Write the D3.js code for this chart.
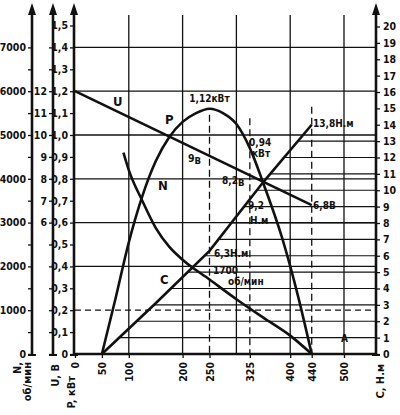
<!DOCTYPE html>
<html><head><meta charset="utf-8">
<script src="https://cdn.jsdelivr.net/npm/d3@7"></script>
<style>
html,body{margin:0;padding:0;background:#fff;}
svg text{font-family:"DejaVu Sans Condensed","Liberation Sans Narrow","DejaVu Sans",sans-serif;font-stretch:condensed;font-weight:bold;fill:#111;}
</style></head>
<body>
<svg id="c" width="400" height="415"></svg>
<script>
// ---- data (current I, A) ----
const I_U = [0, 440];
const U_V = [12, 6.8];
const I_P = [50, 75, 100, 125, 150, 175, 200, 225, 250, 275, 300, 325, 350, 385, 415, 440];
const P_kW = [0, 0.25, 0.51, 0.72, 0.88, 0.99, 1.06, 1.10, 1.12, 1.10, 1.05, 0.94, 0.78, 0.53, 0.26, 0];
const I_N = [90, 100, 125, 150, 175, 200, 250, 300, 350, 400, 440];
const N_rpm = [4600, 4200, 3500, 2880, 2450, 2150, 1700, 1250, 830, 420, 0];
const I_C = [50, 150, 250, 350, 440];
const C_Nm = [0, 3.1, 6.3, 10.5, 14.0];

// ticks
const xTicks = [0, 50, 100, 200, 250, 325, 400, 440, 500];
const xGrid = [100, 200, 300, 400, 500];
const xDashed = [250, 325, 440];
const nTicks = d3.range(0, 7001, 500);
const uTicks = d3.range(0, 15, 1);
const uLabels = [6, 7, 8, 9, 10, 11, 12];
const pTicks = d3.range(0, 16).map(d => d / 10);
const pGrid = [0.2, 0.4, 0.6, 0.8, 1.0, 1.2, 1.4];
const cTicks = d3.range(0, 21);
const cLines = d3.range(1, 14);

const svg = d3.select("#c");
const X0 = 75, X1 = 344, XR = 376, Y0 = 354, YT = 25.5;
const x = d3.scaleLinear().domain([0, 500]).range([X0, X1]);
const yP = d3.scaleLinear().domain([0, 1.5]).range([Y0, YT]);
const yN = d3.scaleLinear().domain([0, 7500]).range([Y0, YT]);
const yU = d3.scaleLinear().domain([0, 15]).range([Y0, YT]);
const yC = d3.scaleLinear().domain([0, 20]).range([Y0, 26.5]);
const cInv = d3.scaleLinear().domain(C_Nm).range(I_C);

const ink = "#111";
const g = svg.append("g");

// grid: horizontal P lines
g.selectAll(".hg").data(pGrid).join("line")
  .attr("x1", X0).attr("x2", XR).attr("y1", d => yP(d)).attr("y2", d => yP(d))
  .attr("stroke", ink).attr("stroke-width", 1.3)
  .attr("stroke-dasharray", d => d === 0.2 ? "6,4" : null);
// grid: vertical
g.selectAll(".vg").data(xGrid).join("line")
  .attr("x1", d => x(d)).attr("x2", d => x(d)).attr("y1", 15).attr("y2", Y0)
  .attr("stroke", ink).attr("stroke-width", 1.3);
// dashed verticals
const dashTop = {250: yP(1.12) + 6, 325: yP(0.94) - 30, 440: yC(14.0) - 18};
g.selectAll(".vd").data(xDashed).join("line")
  .attr("x1", d => x(d)).attr("x2", d => x(d)).attr("y1", d => dashTop[d]).attr("y2", Y0)
  .attr("stroke", ink).attr("stroke-width", 1.3).attr("stroke-dasharray", "7,4");
// torque level lines from the C curve to the right axis
g.selectAll(".cl").data(cLines).join("line")
  .attr("x1", d => x(cInv(d))).attr("x2", XR).attr("y1", d => yC(d)).attr("y2", d => yC(d))
  .attr("stroke", ink).attr("stroke-width", 1.2);

// ---- curves ----
const lineOf = (xs, ys, ys_scale, curve) => d3.line().curve(curve)
  .x((d, i) => x(xs[i])).y((d, i) => ys_scale(ys[i]))(xs);
const cw = 2.6;
g.append("path").attr("d", lineOf(I_U, U_V, yU, d3.curveLinear)).attr("fill", "none").attr("stroke", ink).attr("stroke-width", cw);
g.append("path").attr("d", lineOf(I_P, P_kW, yP, d3.curveMonotoneX)).attr("fill", "none").attr("stroke", ink).attr("stroke-width", cw);
g.append("path").attr("d", lineOf(I_N, N_rpm, yN, d3.curveMonotoneX)).attr("fill", "none").attr("stroke", ink).attr("stroke-width", cw);
g.append("path").attr("d", lineOf(I_C, C_Nm, yC, d3.curveLinear)).attr("fill", "none").attr("stroke", ink).attr("stroke-width", cw);

// ---- axes ----
const axW = 2.6;
function styleAxis(sel) {
  sel.select(".domain").remove();
  sel.selectAll(".tick line").attr("stroke", ink).attr("stroke-width", 1.3);
  sel.selectAll(".tick text").attr("font-size", 10.5).attr("fill", ink);
}
function vAxisLine(xp) {
  svg.append("line").attr("x1", xp).attr("x2", xp).attr("y1", Y0 + 2).attr("y2", 12)
    .attr("stroke", ink).attr("stroke-width", axW);
  svg.append("path").attr("d", `M${xp - 4},15 L${xp},3 L${xp + 4},15 Z`).attr("fill", ink);
  svg.append("line").attr("x1", xp - 4).attr("x2", xp + 4).attr("y1", Y0 + 1).attr("y2", Y0 + 1)
    .attr("stroke", ink).attr("stroke-width", 2);
}
const XN = 32, XU = 53, XPa = 74;
// N axis
const aN = svg.append("g").attr("transform", `translate(${XN},0)`)
  .call(d3.axisLeft(yN).tickValues(nTicks).tickSize(4).tickPadding(2)
    .tickFormat(d => d % 1000 === 0 ? d : ""));
styleAxis(aN);
vAxisLine(XN);
// U axis
const aU = svg.append("g").attr("transform", `translate(${XU},0)`)
  .call(d3.axisLeft(yU).tickValues(uTicks).tickSize(4).tickPadding(2)
    .tickFormat(d => uLabels.includes(d) ? d : ""));
styleAxis(aU);
vAxisLine(XU);
// P axis
const aP = svg.append("g").attr("transform", `translate(${XPa},0)`)
  .call(d3.axisLeft(yP).tickValues(pTicks).tickSize(4).tickPadding(2)
    .tickFormat(d => d === 0 ? "0" : d3.format(".1f")(d).replace(".", ",")));
styleAxis(aP);
vAxisLine(XPa);
// C axis (right)
const aC = svg.append("g").attr("transform", `translate(${XR},0)`)
  .call(d3.axisRight(yC).tickValues(cTicks).tickSize(4).tickPadding(3));
styleAxis(aC);
vAxisLine(XR);
// X axis
svg.append("line").attr("x1", XPa).attr("x2", XR).attr("y1", Y0).attr("y2", Y0).attr("stroke", ink).attr("stroke-width", axW);
const aX = svg.append("g").attr("transform", `translate(0,${Y0})`)
  .call(d3.axisBottom(x).tickValues(xTicks).tickSize(4).tickPadding(2));
aX.select(".domain").remove();
aX.selectAll(".tick line").attr("stroke", ink).attr("stroke-width", 1.3);
aX.selectAll(".tick text").attr("font-size", 10.5)
  .attr("transform", "rotate(-90)").attr("text-anchor", "end")
  .attr("x", -8).attr("y", 0).attr("dy", "0.35em");

// axis titles (rotated)
function vTitle(xp, yp, lines) {
  const t = svg.append("text").attr("transform", `translate(${xp},${yp}) rotate(-90)`)
    .attr("text-anchor", "end").attr("font-size", 11);
  lines.forEach((s, i) => t.append("tspan").attr("x", 0).attr("dy", i === 0 ? 0 : 10).text(s));
}
vTitle(21, 362, ["N,", "об/мин"]);
vTitle(59, 364, ["U, В"]);
vTitle(75, 376, ["P, кВт"]);
vTitle(384, 364, ["C, Н.м"]);

// ---- labels ----
function lab(xp, yp, s, fs) {
  return svg.append("text").attr("x", xp).attr("y", yp).attr("font-size", fs || 10).text(s);
}
lab(113, 106, "U", 13);
lab(165, 124, "P", 13);
lab(158, 190, "N", 13);
lab(160, 284, "C", 13);
lab(x(250), yP(1.12) - 7, "1,12кВт", 10).attr("text-anchor", "middle");
lab(249, 146, "0,94", 10);
lab(252, 157, "кВт", 10);
lab(188, 162, "9", 10.5).append("tspan").attr("dy", 2).attr("font-size", 9.5).text("В");
lab(222, 184, "8,2", 10).append("tspan").attr("dy", 2).attr("font-size", 9.5).text("В");
lab(313, 209, "6,8В", 10);
lab(313, 127, "13,8Н.м", 10);
lab(248, 209, "9,2", 10);
lab(250, 224, "Н.м", 10);
lab(214, 257, "6,3Н.м", 10);
lab(213, 274, "1700", 10);
lab(228, 285, "об/мин", 10);
lab(341, 342, "A", 10);
</script>
</body></html>
